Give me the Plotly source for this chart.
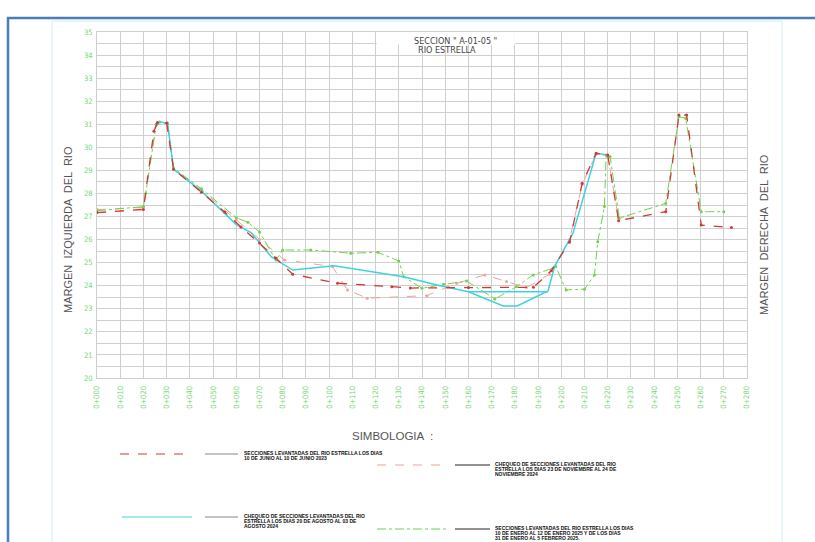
import plotly.graph_objects as go

# ---------------- data ----------------
x_ticks = list(range(0, 290, 10))
x_tick_labels = ["0+000", "0+010", "0+020", "0+030", "0+040", "0+050", "0+060", "0+070",
                 "0+080", "0+090", "0+100", "0+110", "0+120", "0+130", "0+140", "0+150",
                 "0+160", "0+170", "0+180", "0+190", "0+200", "0+210", "0+220", "0+230",
                 "0+240", "0+250", "0+260", "0+270", "0+280"]
y_ticks = list(range(20, 36))
y_tick_labels = ["20", "21", "22", "23", "24", "25", "26", "27", "28", "29", "30", "31",
                 "32", "33", "34", "35"]

# Secciones junio 2023 (rojo discontinuo)
red_x = [0, 20, 24.5, 26, 30, 33, 45, 55, 62, 70, 77, 84.3, 103.6, 127, 135, 160, 188,
         195.7, 203.6, 209, 215, 220, 224.7, 245, 250.7, 254, 260.3, 273.3]
red_y = [27.17, 27.31, 30.7, 31.08, 31.05, 29.05, 28.05, 27.2, 26.55, 25.85, 25.2, 24.5,
         24.11, 23.96, 23.9, 23.92, 23.93, 24.65, 25.9, 28.44, 29.74, 29.67, 26.82, 27.21,
         31.4, 31.4, 26.63, 26.52]

# Chequeo agosto 2024 (cian)
cyan_x = [25.5, 27, 30.4, 33, 45, 60, 66.4, 75, 84.3, 102.1, 132.1, 146.4, 160, 175, 181,
          194.3, 197.1, 205, 215, 220]
cyan_y = [30.9, 31.12, 31.02, 29.05, 28.1, 26.65, 26.3, 25.26, 24.68, 24.87, 24.39, 24.03,
          23.74, 23.12, 23.12, 23.77, 24.83, 26.27, 29.74, 29.67]
cyan_w_x = [160, 194.3]
cyan_w_y = [23.74, 23.74]

# Chequeo noviembre 2024 (salmon discontinuo)
pink_x = [0, 20, 25.5, 30.4, 33, 45, 60, 70, 80.7, 101.4, 107.9, 116.4, 142.1, 155, 167.1,
          176.4, 185, 195, 203.6, 209, 215, 220, 224.7]
pink_y = [27.3, 27.4, 31.0, 31.0, 29.05, 28.15, 26.85, 26.0, 25.12, 24.83, 23.82, 23.46,
          23.57, 24.11, 24.47, 24.18, 23.92, 24.5, 26.0, 28.4, 29.7, 29.65, 26.9]

# Secciones enero-febrero 2025 (verde)
green_x = [0, 20, 21, 25.5, 27, 30.4, 33, 45, 60, 65, 70, 77.1, 80, 92.1, 109.3, 121, 130,
           132.1, 140, 149.3, 159.3, 171.4, 180.7, 187.9, 196.4, 197.6, 202.1, 210, 214.3,
           215.7, 218.6, 219.3, 221, 225, 245, 250.7, 253.6, 260.3, 270]
green_y = [27.25, 27.43, 28.0, 31.0, 31.1, 31.05, 29.1, 28.2, 26.95, 26.75, 26.33, 25.12,
           25.55, 25.55, 25.41, 25.45, 25.07, 24.39, 23.89, 24.06, 24.2, 23.43, 23.96, 24.47,
           24.76, 24.83, 23.82, 23.85, 24.47, 25.91, 27.43, 29.67, 29.6, 26.93, 27.57, 31.33,
           31.25, 27.21, 27.21]

legend_texts = [
    ["SECCIONES LEVANTADAS DEL RIO ESTRELLA LOS DIAS",
     "10 DE JUNIO AL 10 DE JUNIO 2023"],
    ["CHEQUEO DE SECCIONES LEVANTADAS DEL RIO",
     "ESTRELLA LOS DIAS 20 DE AGOSTO AL 03 DE",
     "AGOSTO 2024"],
    ["CHEQUEO DE SECCIONES LEVANTADAS DEL RIO",
     "ESTRELLA LOS DIAS 23 DE NOVIEMBRE AL 24 DE",
     "NOVIEMBRE 2024"],
    ["SECCIONES LEVANTADAS DEL RIO ESTRELLA LOS DIAS",
     "10 DE ENERO AL 12 DE ENERO 2025 Y DE LOS DIAS",
     "31 DE ENERO AL 5 FEBRERO 2025."],
]

# ---------------- styles ----------------
C_RED = "#cf3a36"
C_CYAN = "#3fd2e0"
C_PINK = "#eea49a"
C_GREEN = "#6fd448"
C_TICK = "#72d872"
CAD_FONT = "Liberation Sans Narrow, DejaVu Sans Condensed, Arial, sans-serif"

W, H = 815, 542
L, R, T, B = 97, 747, 32, 378


def pp(px, py):
    return (px - L) / (R - L), (B - py) / (B - T)


fig = go.Figure()
fig.add_trace(go.Scatter(x=pink_x, y=pink_y, mode="lines+markers",
                         line=dict(color=C_PINK, width=1, dash="dash"),
                         marker=dict(size=3, color=C_PINK), showlegend=False))
fig.add_trace(go.Scatter(x=green_x, y=green_y, mode="lines+markers",
                         line=dict(color=C_GREEN, width=1, dash="dashdot"),
                         marker=dict(size=3, color=C_GREEN), showlegend=False))
fig.add_trace(go.Scatter(x=cyan_w_x, y=cyan_w_y, mode="lines",
                         line=dict(color=C_CYAN, width=1.5), showlegend=False))
fig.add_trace(go.Scatter(x=cyan_x, y=cyan_y, mode="lines",
                         line=dict(color=C_CYAN, width=1.5), showlegend=False))
fig.add_trace(go.Scatter(x=red_x, y=red_y, mode="lines+markers",
                         line=dict(color=C_RED, width=1.3, dash="dash"),
                         marker=dict(size=3, color=C_RED), showlegend=False))

shapes = []
annotations = []

# blank box behind the title
shapes.append(dict(type="rect", xref="x", yref="y", x0=120.5, x1=180, y0=34.45, y1=35.05,
                   fillcolor="white", line=dict(width=0), layer="above"))
# outer frames
x0, y0 = pp(8, 18)
x1, y1 = pp(840, 570)
shapes.append(dict(type="rect", xref="paper", yref="paper", x0=x0, y0=y1, x1=x1, y1=y0,
                   line=dict(color="#4a7ebb", width=2.5), fillcolor="rgba(0,0,0,0)"))
x0, y0 = pp(52, 21)
x1, y1 = pp(782, 570)
shapes.append(dict(type="rect", xref="paper", yref="paper", x0=x0, y0=y1, x1=x1, y1=y0,
                   line=dict(color="#d3eef3", width=1), fillcolor="rgba(0,0,0,0)"))

# title
for txt, cx, cy in [('SECCION " A-01-05 "', 455, 41), ("RIO ESTRELLA", 447, 50)]:
    ax, ay = pp(cx, cy)
    annotations.append(dict(text=txt, xref="paper", yref="paper", x=ax, y=ay,
                            showarrow=False, xanchor="center", yanchor="middle",
                            font=dict(family=CAD_FONT, size=9, color="#444444")))

# side labels
for txt, cx, cy in [("MARGEN  IZQUIERDA  DEL  RIO", 68, 230),
                    ("MARGEN  DERECHA  DEL  RIO", 764, 235)]:
    ax, ay = pp(cx, cy)
    annotations.append(dict(text=txt, xref="paper", yref="paper", x=ax, y=ay,
                            showarrow=False, textangle=-90, xanchor="center",
                            yanchor="middle",
                            font=dict(family="Liberation Sans, Arial", size=11,
                                      color="#555555")))

# SIMBOLOGIA
ax, ay = pp(392, 436)
annotations.append(dict(text="SIMBOLOGIA  :", xref="paper", yref="paper", x=ax,
                        y=ay, showarrow=False, xanchor="center", yanchor="middle",
                        font=dict(family="Liberation Sans, Arial", size=11.5,
                                  color="#555555")))

# legend entries
legend_geom = [
    (120, 192, 205, 238, 454, C_RED, "dash", "#888888", 242),
    (122, 192, 205, 238, 517, C_CYAN, "solid", "#888888", 242),
    (377, 447, 455, 490, 465, C_PINK, "dash", "#222222", 493),
    (377, 447, 455, 490, 529, C_GREEN, "dashdot", "#222222", 493),
]
for (lx0, lx1, gx0, gx1, ly, col, dsh, gcol, tx), lines in zip(legend_geom, legend_texts):
    a0, b0 = pp(lx0, ly)
    a1, _ = pp(lx1, ly)
    shapes.append(dict(type="line", xref="paper", yref="paper", x0=a0, x1=a1, y0=b0, y1=b0,
                       line=dict(color=col, width=1, dash=dsh)))
    a0, _ = pp(gx0, ly)
    a1, _ = pp(gx1, ly)
    shapes.append(dict(type="line", xref="paper", yref="paper", x0=a0, x1=a1, y0=b0, y1=b0,
                       line=dict(color=gcol, width=1)))
    for i, line_txt in enumerate(lines):
        ax, ay = pp(tx, ly - 1 + i * 5.2)
        annotations.append(dict(text="<b>" + line_txt + "</b>", xref="paper", yref="paper",
                                x=ax, y=ay, showarrow=False, xanchor="left",
                                yanchor="middle", align="left",
                                font=dict(family="Arial, Liberation Sans", size=5.0,
                                          color="#111111")))

fig.update_layout(
    width=W, height=H,
    margin=dict(l=L, r=W - R, t=T, b=H - B, pad=0, autoexpand=False),
    paper_bgcolor="white", plot_bgcolor="white",
    shapes=shapes, annotations=annotations,
    showlegend=False,
    xaxis=dict(range=[0, 280], tickmode="array", tickvals=x_ticks, ticktext=x_tick_labels,
               tickangle=-90, tickfont=dict(family=CAD_FONT, size=7.5, color=C_TICK),
               showgrid=True, gridcolor="#cfcfcf", gridwidth=1, zeroline=False,
               showline=True, linecolor="#cfcfcf", mirror=True, ticks="",
               ticklabelstandoff=4),
    yaxis=dict(range=[20, 35], tickmode="array", tickvals=y_ticks, ticktext=y_tick_labels,
               tickfont=dict(family=CAD_FONT, size=7.5, color=C_TICK),
               showgrid=True, gridcolor="#cfcfcf", gridwidth=1, zeroline=False,
               showline=True, linecolor="#cfcfcf", mirror=True, ticks="",
               minor=dict(dtick=0.5, showgrid=True, gridcolor="#cfcfcf", gridwidth=1),
               ticklabelstandoff=2),
)

fig.write_html("out.html", config={"displayModeBar": False},
               post_script="document.body.style.margin='0';"
                           "document.body.style.overflow='hidden';")
